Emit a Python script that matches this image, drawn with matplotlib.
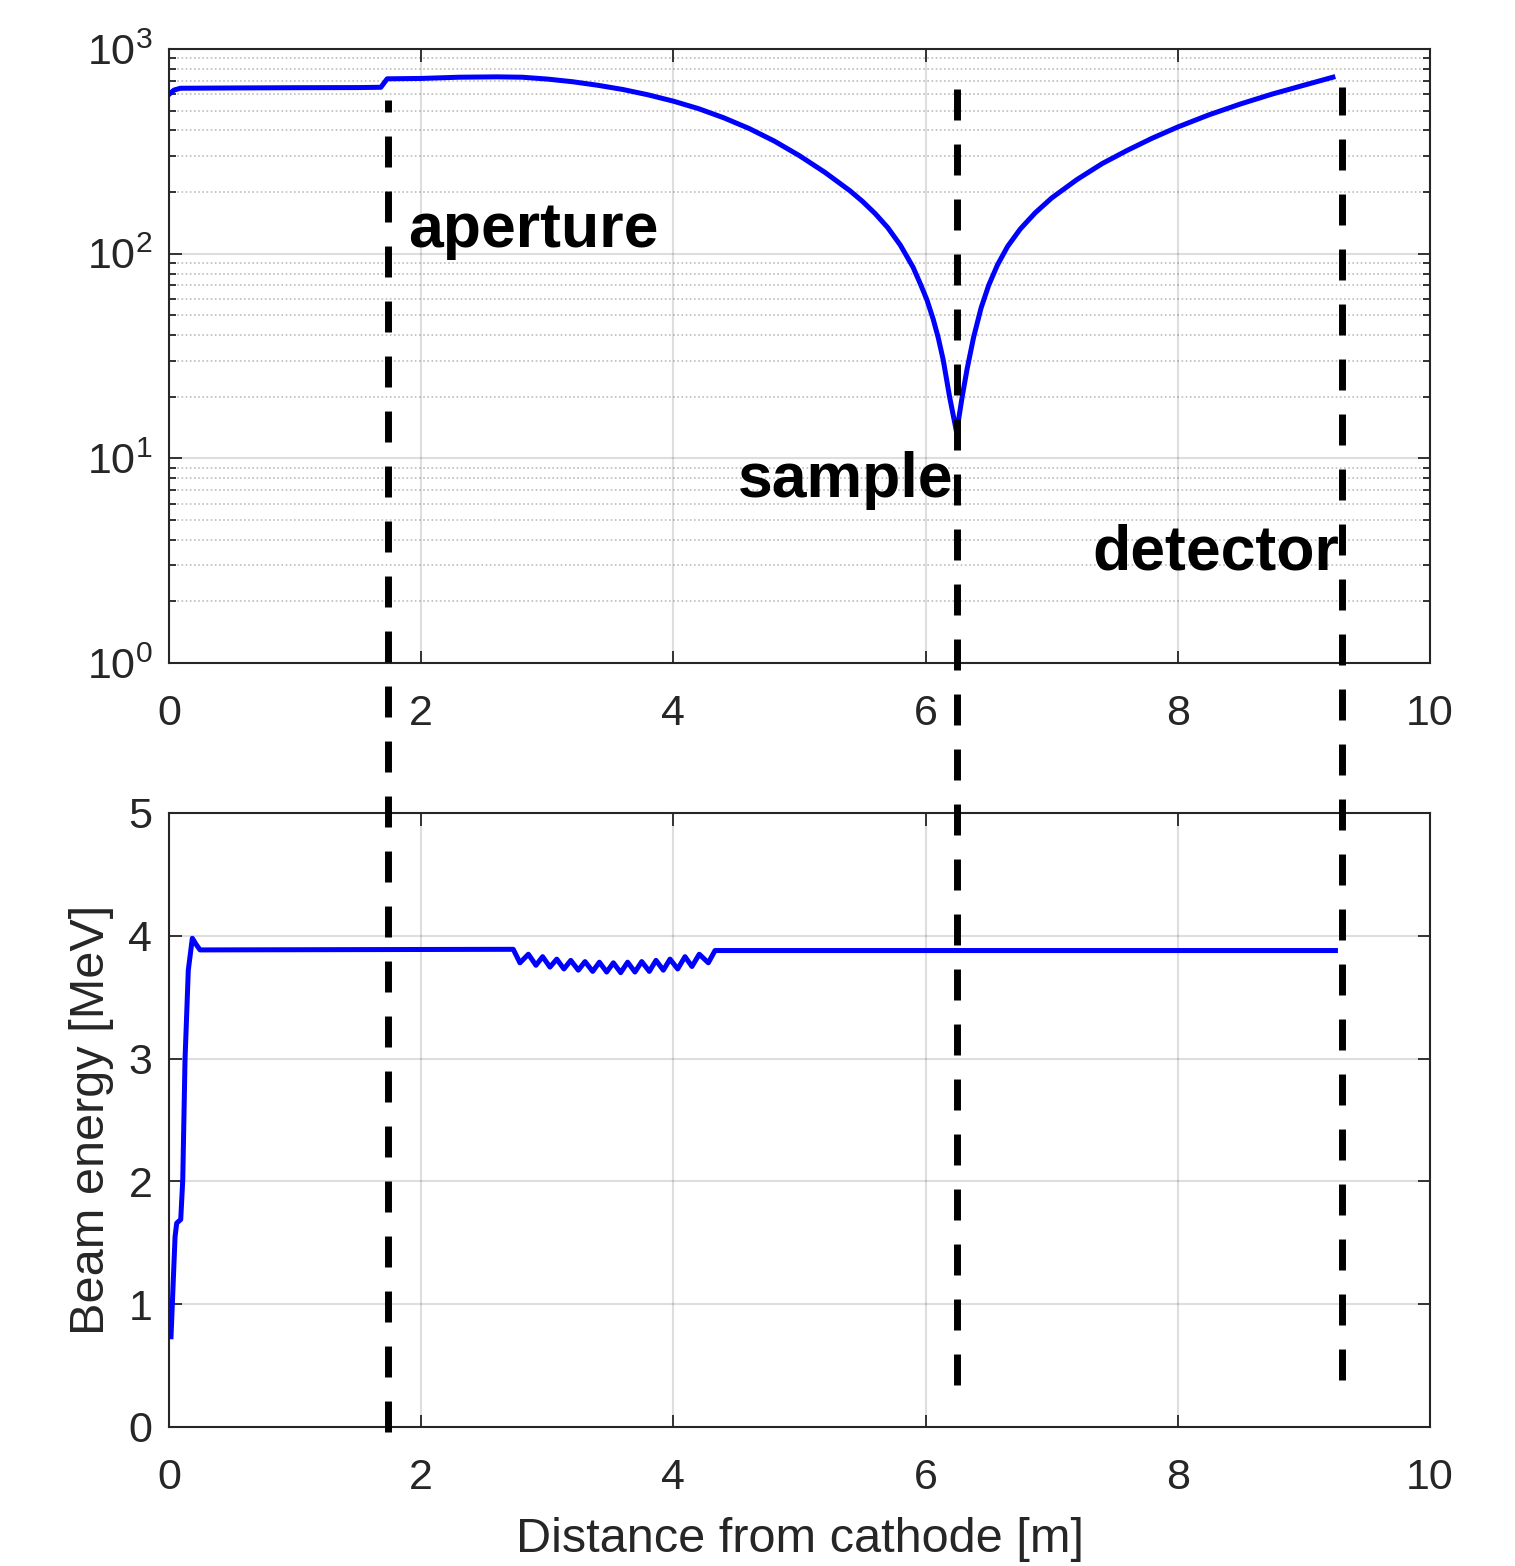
import numpy as np
import matplotlib
matplotlib.use("Agg")
import matplotlib.pyplot as plt
from matplotlib.lines import Line2D
from matplotlib.ticker import LogLocator, NullFormatter
from matplotlib.transforms import blended_transform_factory

plt.rcParams["font.family"] = ["Liberation Sans", "DejaVu Sans"]
plt.rcParams["mathtext.fontset"] = "custom"
plt.rcParams["mathtext.rm"] = "Liberation Sans"
plt.rcParams["mathtext.it"] = "Liberation Sans"
plt.rcParams["mathtext.bf"] = "Liberation Sans:bold"

# beam size along the column (log scale)
x_size = [0.0, 0.04, 0.09, 0.5, 1.0, 1.5, 1.68, 1.73, 2.0, 2.3, 2.6, 2.8,
          3.0, 3.2, 3.4, 3.6, 3.8, 4.0, 4.2, 4.4, 4.6, 4.8, 5.0, 5.2,
          5.4, 5.5, 5.6, 5.7, 5.8, 5.9, 5.96, 6.01, 6.06, 6.10, 6.14,
          6.19, 6.246, 6.29, 6.33, 6.38, 6.44, 6.50, 6.57, 6.65, 6.75,
          6.87, 7.0, 7.2, 7.4, 7.6, 7.8, 8.0, 8.25, 8.5, 8.75, 9.0, 9.23]
y_size = [600, 630, 643, 645, 647, 648, 650, 715, 718, 728, 731, 728,
          713, 692, 665, 634, 597, 556, 511, 461, 409, 355, 301, 250,
          203, 180, 157, 134, 110, 86, 70.8, 59.6, 47.9, 38.9, 30.2,
          20.0, 13.4, 20.0, 27.5, 38.9, 54.3, 70.0, 88.1, 108.4, 131.8,
          158.5, 187.1, 230.1, 275.4, 319.9, 367.3, 415.9, 477.5, 539.5,
          602.6, 665.3, 728]

# beam energy along the column
x_energy = [0.016, 0.048, 0.061, 0.093, 0.109, 0.127, 0.153, 0.185, 0.215, 0.246,
            2.73, 2.783, 2.850, 2.910, 2.963, 3.021, 3.075, 3.132, 3.186, 3.246,
            3.299, 3.360, 3.413, 3.471, 3.524, 3.582, 3.637, 3.695, 3.749, 3.809,
            3.862, 3.920, 3.973, 4.034, 4.092, 4.147, 4.205, 4.277, 4.33, 9.25]
y_energy = [0.735, 1.55, 1.66, 1.69, 2.01, 2.99, 3.72, 3.98, 3.93, 3.885,
            3.89, 3.78, 3.85, 3.76, 3.83, 3.745, 3.81, 3.73, 3.80, 3.72,
            3.79, 3.71, 3.785, 3.705, 3.78, 3.70, 3.785, 3.705, 3.79, 3.71,
            3.80, 3.72, 3.81, 3.73, 3.83, 3.75, 3.85, 3.78, 3.88, 3.88]

# element positions [m] and labels
elem_x = [1.737, 6.25, 9.30]
elem_names = ["aperture", "sample", "detector"]
label_x = [1.90, 4.51, 7.32]
label_y = [108, 6.5, 2.85]

W, H = 1515, 1566
fig = plt.figure(figsize=(W / 100, H / 100), dpi=100)
ax1 = fig.add_axes([169 / W, 1 - 663 / H, 1261 / W, 614 / H])
ax2 = fig.add_axes([169 / W, 1 - 1427 / H, 1261 / W, 614 / H])

dark = "#262626"
for ax in (ax1, ax2):
    ax.set_xlim(0, 10)
    ax.set_xticks([0, 2, 4, 6, 8, 10])
    for s in ax.spines.values():
        s.set_color(dark)
        s.set_linewidth(1.5)
    ax.tick_params(which="both", direction="in", top=True, right=True,
                   colors=dark, labelcolor=dark, width=1.3)
    ax.tick_params(which="major", length=9, labelsize=31)
    ax.tick_params(axis="x", pad=22)
    ax.tick_params(axis="y", pad=12)
    ax.grid(True, which="major", color=dark, alpha=0.15, lw=1.5)
    ax.set_axisbelow(True)

ax1.plot(x_size, y_size, color="blue", lw=3.6, zorder=3)
ax1.set_yscale("log")
ax1.set_ylim(1, 1000)
ax1.yaxis.set_major_locator(LogLocator(base=10, numticks=10))
ax1.yaxis.set_minor_locator(LogLocator(base=10, subs=np.arange(2, 10), numticks=20))
ax1.yaxis.set_minor_formatter(NullFormatter())
ax1.tick_params(axis="y", which="minor", length=5, width=1.3)
ax1.tick_params(axis="x", which="minor", bottom=False, top=False)
ax1.yaxis.grid(True, which="minor", color=dark, alpha=0.3, lw=1.2, ls=(0, (1, 1.5)))

ax2.plot(x_energy, y_energy, color="blue", lw=3.6, zorder=3)
ax2.set_ylim(0, 5)
ax2.set_yticks([0, 1, 2, 3, 4, 5])
ax2.set_xlabel("Distance from cathode [m]", fontsize=35, color=dark, labelpad=14)
ax2.set_ylabel("Beam energy [MeV]", fontsize=35, color=dark, labelpad=10)

for name, lx, ly in zip(elem_names, label_x, label_y):
    ax1.text(lx, ly, name, fontsize=45, fontweight="bold", color="black",
             ha="left", va="baseline", zorder=5)

# dashed markers spanning both panels (x in data, y in figure fraction)
trans = blended_transform_factory(ax1.transData, fig.transFigure)
spans = [(100, 1432), (67, 1385), (87, 1380)]
for xe, (top, bot) in zip(elem_x, spans):
    line = Line2D([xe, xe], [1 - bot / H, 1 - top / H], transform=trans,
                  color="black", lw=5, ls=(0, (4.46, 3.46)), zorder=10)
    line.set_clip_on(False)
    fig.add_artist(line)

fig.savefig("out.png", dpi=100, facecolor="white")
